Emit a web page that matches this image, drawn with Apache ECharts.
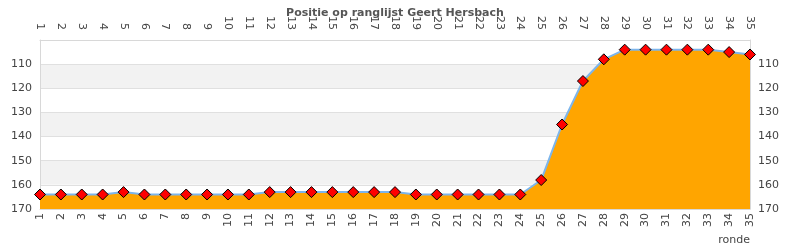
<!DOCTYPE html>
<html><head><meta charset="utf-8">
<script src="https://cdn.jsdelivr.net/npm/echarts@6/dist/echarts.min.js"></script>
<style>html,body{margin:0;padding:0;background:#fff}#c{width:790px;height:250px}</style>
</head><body><div id="c"></div>
<script>
const rounds = ['1','2','3','4','5','6','7','8','9','10','11','12','13','14','15','16','17','18','19','20','21','22','23','24','25','26','27','28','29','30','31','32','33','34','35'];
const positions = [164,164,164,164,163,164,164,164,164,164,164,163,163,163,163,163,163,163,164,164,164,164,164,164,158,135,117,108,104,104,104,104,104,105,106];
const titleText = 'Positie op ranglijst Geert Hersbach';
const xName = 'ronde';

const font = 'DejaVu Sans';
const labelColor = '#444';
const chart = echarts.init(document.getElementById('c'), null, {renderer:'canvas'});
const yCommon = {
  type:'value', min:100, max:170, interval:10, inverse:true,
  axisLine:{show:true, lineStyle:{color:'#d8d8d8'}},
  axisTick:{show:false},
  axisLabel:{color:labelColor, fontFamily:font, fontSize:11, formatter:v=> v===100?'':String(v)}
};
const xCommon = {
  type:'category', data:rounds, boundaryGap:false,
  axisLine:{show:true, lineStyle:{color:'#d8d8d8'}},
  axisTick:{show:false},
  axisLabel:{color:labelColor, fontFamily:font, fontSize:11, rotate:90, interval:0}
};
chart.setOption({
  animation:false,
  title:{text:titleText, left:'center', top:3, textStyle:{fontFamily:font, fontSize:11, fontWeight:'bold', color:'#555'}},
  grid:{left:40, right:40, top:40, bottom:41},
  xAxis:[
    Object.assign({}, xCommon, {position:'bottom', axisLabel:Object.assign({}, xCommon.axisLabel, {margin:4}),
      name:xName, nameLocation:'end', nameGap:0,
      nameTextStyle:{color:labelColor, fontFamily:font, fontSize:11, align:'right', verticalAlign:'top', padding:[26,0,0,0]}}),
    Object.assign({}, xCommon, {position:'top', axisLabel:Object.assign({}, xCommon.axisLabel, {margin:10})})
  ],
  yAxis:[
    Object.assign({}, yCommon, {position:'left',
      splitLine:{show:true, lineStyle:{color:'#e0e0e0'}},
      splitArea:{show:true, areaStyle:{color:['#ffffff','#f2f2f2']}}}),
    Object.assign({}, yCommon, {position:'right', splitLine:{show:false}})
  ],
  series:[{
    type:'line', data:positions, xAxisIndex:0, yAxisIndex:0,
    symbol:'diamond', symbolSize:11,
    itemStyle:{color:'#ff0000', borderColor:'#000', borderWidth:1},
    lineStyle:{color:'#7cb5ec', width:2},
    areaStyle:{color:'#ffa500', opacity:1, origin:'end'}
  }]
});
</script></body></html>
